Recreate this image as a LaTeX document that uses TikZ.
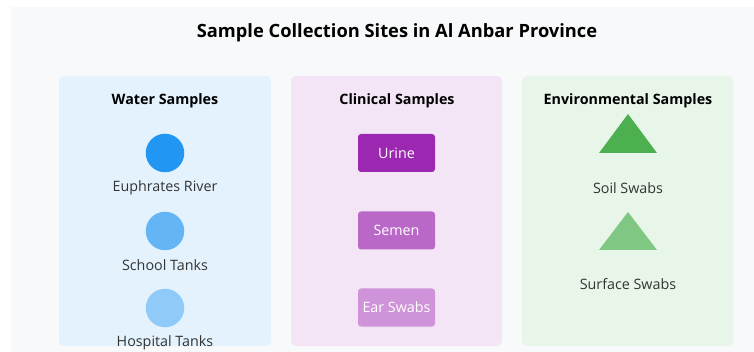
\documentclass[tikz,border=0pt]{standalone}
\usepackage{fontspec}
\setmainfont{Open Sans}
\usetikzlibrary{shapes.geometric}
\definecolor{bgout}{HTML}{F8F9FA}
\definecolor{wpanel}{HTML}{E3F2FD}
\definecolor{cpanel}{HTML}{F3E5F5}
\definecolor{epanel}{HTML}{E8F5E9}
\definecolor{w1}{HTML}{2196F3}
\definecolor{w2}{HTML}{64B5F6}
\definecolor{w3}{HTML}{90CAF9}
\definecolor{c1}{HTML}{9C27B0}
\definecolor{c2}{HTML}{BA68C8}
\definecolor{c3}{HTML}{CE93D8}
\definecolor{e1}{HTML}{4CAF50}
\definecolor{e2}{HTML}{81C784}
\definecolor{txt}{HTML}{333333}
\tikzset{
  panel/.style={rounded corners=5pt},
  ptitle/.style={font=\fontsize{14.3}{17}\selectfont\bfseries, text=black, inner sep=0pt},
  lbl/.style={font=\fontsize{14.3}{17}\selectfont, text=txt, inner sep=0pt},
  dot/.style={circle, minimum size=38.5pt, inner sep=0pt},
  clin/.style={rounded corners=3pt, minimum width=77pt, minimum height=38pt, inner sep=0pt, text=white, font=\fontsize{14.3}{17}\selectfont},
}
\begin{document}
\begin{tikzpicture}[x=1pt,y=-1pt]
\useasboundingbox (0,0) rectangle (754,352);
\fill[bgout] (11,7) rectangle (754,352);
\node[font=\fontsize{18.3}{22}\selectfont\bfseries, inner sep=0pt] (title) at (397,32.5) {Sample Collection Sites in Al Anbar Province};
% panels
\fill[wpanel, panel] (59,76) rectangle (271,346);
\fill[cpanel, panel] (291,76) rectangle (502,346);
\fill[epanel, panel] (522,76) rectangle (733,346);
\node[ptitle] (wt) at (165,100.5) {Water Samples};
\node[ptitle] (ct) at (397,100.5) {Clinical Samples};
\node[ptitle] (et) at (628,100.5) {Environmental Samples};
% water
\node[dot, fill=w1] (river) at (165,153) {};
\node[lbl] (riverl) at (165,187.5) {Euphrates River};
\node[dot, fill=w2] (school) at (165,231) {};
\node[lbl] (schooll) at (165,265.5) {School Tanks};
\node[dot, fill=w3] (hosp) at (165,308) {};
\node[lbl] (hospl) at (165,342.5) {Hospital Tanks};
% clinical
\node[clin, fill=c1] (urine) at (396.5,153) {Urine};
\node[clin, fill=c2] (semen) at (396.5,230.5) {Semen};
\node[clin, fill=c3] (ear) at (396.5,307.5) {Ear Swabs};
% environmental
\coordinate (s1) at (628,114);
\fill[e1] (s1) -- (657,153) -- (599,153) -- cycle;
\node[lbl] (soill) at (628,188.5) {Soil Swabs};
\coordinate (s2) at (628,212);
\fill[e2] (s2) -- (657,250) -- (599,250) -- cycle;
\node[lbl] (surfl) at (628,284.5) {Surface Swabs};
\end{tikzpicture}
\end{document}
